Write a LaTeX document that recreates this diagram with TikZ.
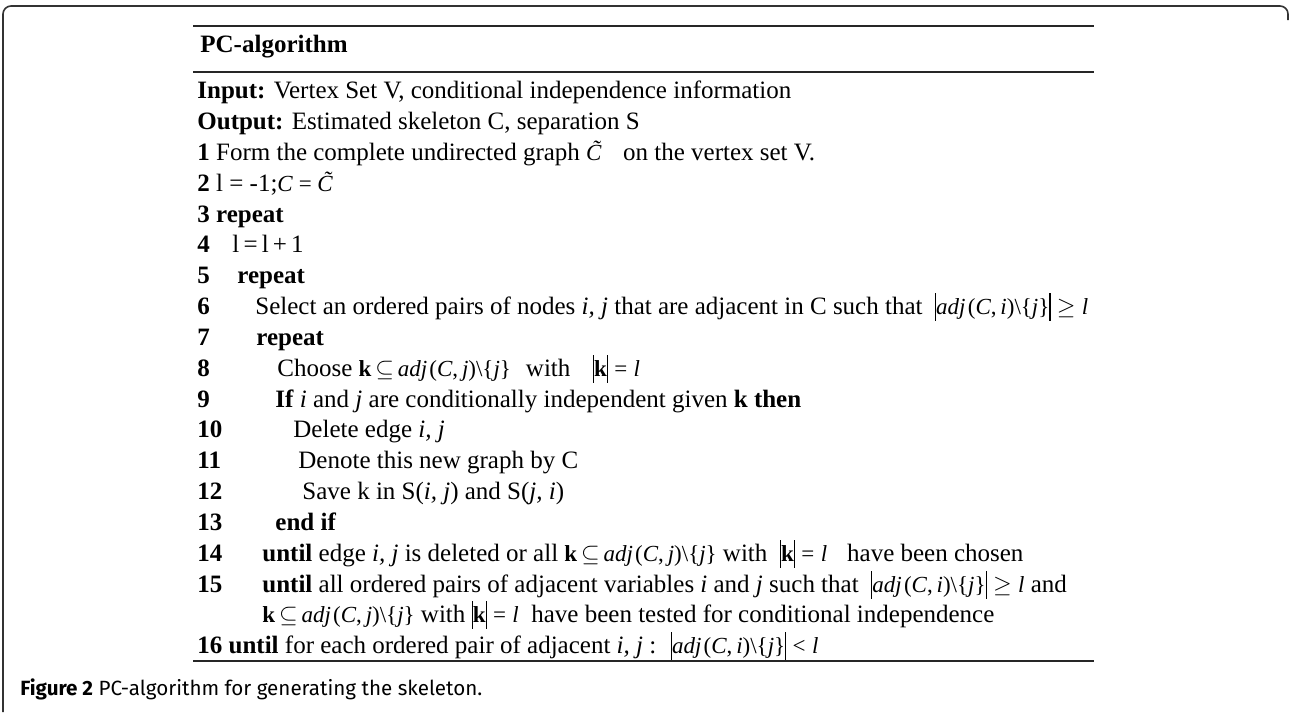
\documentclass[tikz,border=0pt]{standalone}
\usepackage{fontspec}
\setmainfont{Liberation Serif}
\newfontfamily\capfont{Fira Sans}
\newcommand\vb{\rule[-0.3em]{0.05em}{1.2em}}
\newcommand\adjx[1]{\textit{adj}\kern0.1em(\textit{C},\,\textit{#1})\textbackslash\{\textit{j}\}}
\newcommand\mathsz{\fontsize{11.5}{12}\selectfont}
\newcommand\kset{{\mathsz\textbf{k}\,$\subseteq$\,\adjx{j}}}
\newcommand\keql{{\mathsz\vb\textbf{k}\vb\;=\;\textit{l}}}
\begin{document}
\begin{tikzpicture}[x=0.5pt,y=-0.5pt,
  txt/.style={anchor=base west, inner sep=0pt, font=\fontsize{12.5}{15}\selectfont},
  rulebar/.style={line width=1pt, color=black!85},
  framebar/.style={line width=0.8pt, color=black!80, rounded corners=4pt}]
\useasboundingbox (0,0) rectangle (1289,712);
\draw[framebar] (3,712) -- (3,6) -- (1288,6) -- (1288,20);
\draw[rulebar] (193,26) -- (1094,26);
\draw[line width=0.8pt, color=black!85] (193,72) -- (1094,72);
\draw[rulebar] (193,661) -- (1094,661);
\node[txt] (title) at (200,52) {\textbf{PC-algorithm}};
\node[txt] (inp) at (197,98) {\textbf{Input:} Vertex Set V, conditional independence information};
\node[txt] (outp) at (197,129) {\textbf{Output:} Estimated skeleton C, separation S};
\node[txt] (s1) at (197,160) {\textbf{1} Form the complete undirected graph {\mathsz\textit{\~C}}\ \ on the vertex set V.};
\node[txt] (s2) at (197,191) {\textbf{2} l = -1;{\mathsz\textit{C} = \textit{\~C}}};
\node[txt] (s3) at (197,222) {\textbf{3 repeat}};
\node[txt] (n4) at (197,252) {\textbf{4}};
\node[txt] (s4) at (232,252) {l\,=\,l\,+\,1};
\node[txt] (n5) at (197,283) {\textbf{5}};
\node[txt] (s5) at (237,283) {\textbf{repeat}};
\node[txt] (n6) at (197,314) {\textbf{6}};
\node[txt] (s6) at (255,314) {Select an ordered pairs of nodes \textit{i, j} that are adjacent in C such that \ {\mathsz\vb\adjx{i}\vb\;$\geq$\;\textit{l}}};
\node[txt] (n7) at (197,345) {\textbf{7}};
\node[txt] (s7) at (256,345) {\textbf{repeat}};
\node[txt] (n8) at (197,376) {\textbf{8}};
\node[txt] (s8) at (277,376) {Choose \kset\hspace{0.6em}with\hspace{0.9em}\keql};
\node[txt] (n9) at (197,407) {\textbf{9}};
\node[txt] (s9) at (275,407) {\textbf{If} \textit{i} and \textit{j} are conditionally independent given \textbf{k then}};
\node[txt] (n10) at (197,437) {\textbf{10}};
\node[txt] (s10) at (293,437) {Delete edge \textit{i, j}};
\node[txt] (n11) at (197,468) {\textbf{11}};
\node[txt] (s11) at (298,468) {Denote this new graph by C};
\node[txt] (n12) at (197,499) {\textbf{12}};
\node[txt] (s12) at (302,499) {Save k in S(\textit{i, j}) and S(\textit{j, i})};
\node[txt] (n13) at (197,530) {\textbf{13}};
\node[txt] (s13) at (275,530) {\textbf{end if}};
\node[txt] (n14) at (197,561) {\textbf{14}};
\node[txt] (s14) at (262,561) {\textbf{until} edge \textit{i, j} is deleted or all \kset\ with \ \keql\hspace{0.8em}have been chosen};
\node[txt] (n15) at (197,592) {\textbf{15}};
\node[txt] (s15) at (262,592) {\textbf{until} all ordered pairs of adjacent variables \textit{i} and \textit{j} such that \ {\mathsz\vb\adjx{i}\vb\;$\geq$\;\textit{l}}\ and};
\node[txt] (s15b) at (262,622) {\kset\ with \keql\ \ have been tested for conditional independence};
\node[txt] (s16) at (197,653) {\textbf{16 until} for each ordered pair of adjacent \textit{i, j} : \ {\mathsz\vb\adjx{i}\vb\;<\;\textit{l}}};
\node[anchor=base west, inner sep=0pt, font=\capfont\fontsize{10.3}{12}\selectfont] (cap) at (20,695) {\textbf{Figure 2} PC-algorithm for generating the skeleton.};
\end{tikzpicture}
\end{document}
